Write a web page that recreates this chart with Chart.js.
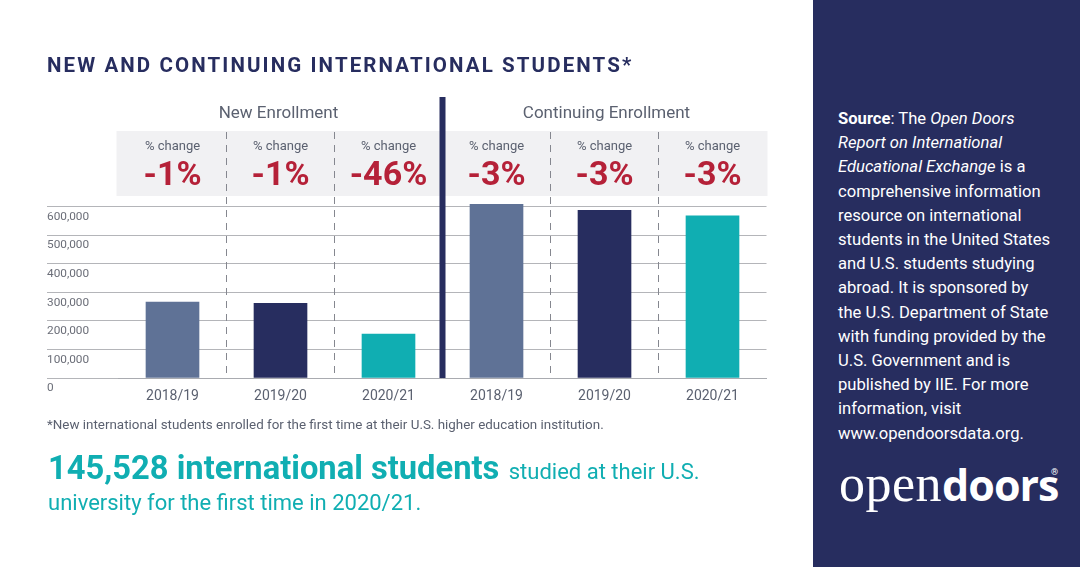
<!DOCTYPE html>
<html>
<head>
<meta charset="utf-8">
<title>New and continuing international students</title>
<script src="https://cdn.jsdelivr.net/npm/chart.js@4"></script>
<style>
	html, body { margin:0; padding:0; background:#fff; }
	#page { position:relative; width:1080px; height:567px; overflow:hidden; font-family:Roboto, sans-serif; }
	#page div { position:absolute; white-space:nowrap; }
	canvas { position:absolute; left:0; top:0; }
	#title { left:47px; top:51px; font-size:20.5px; line-height:28px; font-weight:700; letter-spacing:2.1px; color:#272d5f; }
	#footnote { left:47px; top:415px; font-size:13.4px; line-height:20px; color:#5b6170; }
	#big1 { left:48px; top:447px; font-size:22px; line-height:42px; color:#10aeb2; }
	#big1 b { font-size:32.7px; font-weight:700; margin-right:4px; }
	#big2 { left:48px; top:487px; font-size:22px; line-height:32px; color:#10aeb2; }
	#side { left:813px; top:0; width:267px; height:567px; background:#272d5f; }
	#source { left:25px; top:107px; font-size:16.6px; line-height:24.2px; color:#fff; }
	#logo { left:26px; top:449px; font-size:52px; line-height:70px; color:#fff; }
	#logo span { font-family:"Liberation Serif", serif; letter-spacing:0.5px; }
	#logo b { font-family:"Open Sans", sans-serif; font-weight:700; font-size:43px; letter-spacing:-1px; }
	#logo sup { font-size:9px; position:absolute; left:212px; top:-12px; line-height:70px; }
</style>
</head>
<body>
<div id="page">
	<canvas id="chart" width="1080" height="567"></canvas>
	<div id="title">NEW AND CONTINUING INTERNATIONAL STUDENTS*</div>
	<div id="footnote">*New international students enrolled for the first time at their U.S. higher education institution.</div>
	<div id="big1"><b>145,528 international students</b> studied at their U.S.</div>
	<div id="big2">university for the first time in 2020/21.</div>
	<div id="side">
		<div id="source"><b>Source</b>: The <i>Open Doors</i><br><i>Report on International</i><br><i>Educational Exchange</i> is a<br>comprehensive information<br>resource on international<br>students in the United States<br>and U.S. students studying<br>abroad. It is sponsored by<br>the U.S. Department of State<br>with funding provided by the<br>U.S. Government and is<br>published by IIE. For more<br>information, visit<br>www.opendoorsdata.org.</div>
		<div id="logo"><span>open</span><b>doors</b><sup>®</sup></div>
	</div>
</div>
<script>
var categories = [ '2018/19', '2019/20', '2020/21', '2018/19', '2019/20', '2020/21' ];
var students   = [ 265500, 261000, 154000, 607000, 586000, 567000 ];
var changes    = [ '-1%', '-1%', '-46%', '-3%', '-3%', '-3%' ];
var groups     = [ 'New Enrollment', 'Continuing Enrollment' ];
var yTicks     = [ 0, 100000, 200000, 300000, 400000, 500000, 600000 ];
var barColors  = [ '#5f7296', '#272d5f', '#10aeb2', '#5f7296', '#272d5f', '#10aeb2' ];

// Header band, dividers and labels that sit above the bars, placed from the x scale
var headerPlugin = {
	id: 'header',
	afterDatasetsDraw: function( chart ){
		var c = chart.ctx,
			x = chart.scales.x,
			bottom = chart.chartArea.bottom,
			step = x.getPixelForValue( 1 ) - x.getPixelForValue( 0 );

		c.save();
		c.fillStyle = '#f1f1f3';
		c.fillRect( x.getPixelForValue( 0 ) - step / 2 - 2, 131, step * 6 + 3, 65 );

		c.strokeStyle = '#85878f';
		c.lineWidth = 1;
		c.setLineDash( [ 7, 6 ] );
		for( var i = 0; i < categories.length - 1; i++ ){
			if( i == 2 ) continue;
			var d = Math.round( x.getPixelForValue( i ) + step / 2 ) - 0.5;
			c.beginPath();
			c.moveTo( d, 132 );
			c.lineTo( d, bottom );
			c.stroke();
		}
		c.setLineDash( [] );

		c.fillStyle = '#272d5f';
		c.fillRect( x.getPixelForValue( 2 ) + step / 2 - 3, 97, 6, bottom - 97 );

		c.textAlign = 'center';
		c.textBaseline = 'middle';
		for( var j = 0; j < changes.length; j++ ){
			var px = x.getPixelForValue( j );
			c.fillStyle = '#5b6170';
			c.font = '13px Roboto';
			c.fillText( '% change', px, 147 );
			c.fillStyle = '#b52138';
			c.font = '700 34px Roboto';
			c.fillText( changes[ j ], px, 176 );
		}

		c.fillStyle = '#5b6170';
		c.font = '17px Roboto';
		c.fillText( groups[ 0 ], x.getPixelForValue( 1 ) - 2, 114 );
		c.fillText( groups[ 1 ], x.getPixelForValue( 4 ) + 2, 114 );
		c.restore();
	}
};

new Chart( document.getElementById( 'chart' ).getContext( '2d' ), {
	type: 'bar',
	data: {
		labels: categories,
		datasets: [ { data: students, backgroundColor: barColors, barThickness: 53 } ]
	},
	plugins: [ headerPlugin ],
	options: {
		responsive: false,
		animation: false,
		devicePixelRatio: 1,
		layout: { padding: { left: 47, top: 200.7, right: 313.5, bottom: 0 } },
		plugins: { legend: { display: false }, tooltip: { enabled: false } },
		scales: {
			x: {
				afterFit: function( s ){ s.height = 189; },
				border: { color: '#a9abb0' },
				grid: { display: false },
				ticks: { color: '#5b6170', font: { family: 'Roboto', size: 14 }, padding: 2, maxRotation: 0, autoSkip: false }
			},
			y: {
				min: 0,
				max: 620000,
				afterFit: function( s ){ s.width = 71.5; },
				afterBuildTicks: function( s ){
					s.ticks = yTicks.map( function( v ){ return { value: v }; } );
				},
				border: { display: false },
				grid: { color: '#b4b5b9', lineWidth: 1, tickLength: 71.5, tickColor: '#b4b5b9' },
				ticks: {
					crossAlign: 'far',
					labelOffset: 10.5,
					padding: 0,
					color: '#6b6e78',
					font: { family: 'Roboto', size: 11.8 },
					callback: function( v ){ return v.toLocaleString( 'en-US' ); }
				}
			}
		}
	}
} );
</script>
</body>
</html>
